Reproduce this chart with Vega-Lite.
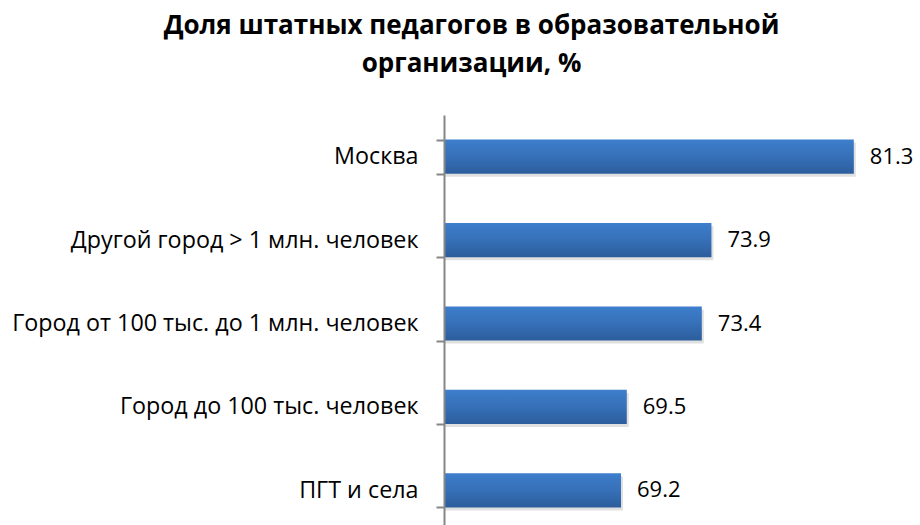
{
  "$schema": "https://vega.github.io/schema/vega-lite/v6.json",
  "autosize": "none",
  "width": 481,
  "height": 417,
  "padding": {"left": 444, "top": 115, "right": 0, "bottom": 0},
  "background": "white",
  "title": {
    "text": ["Доля штатных педагогов в образовательной", "организации, %"],
    "anchor": "middle",
    "dx": -213,
    "offset": 26,
    "font": "Open Sans",
    "fontSize": 26,
    "fontWeight": "bold",
    "color": "#000000",
    "lineHeight": 38
  },
  "config": {"view": {"stroke": null}},
  "data": {
    "values": [
      {"category": "Москва", "value": 81.3},
      {"category": "Другой город > 1 млн. человек", "value": 73.9},
      {"category": "Город от 100 тыс. до 1 млн. человек", "value": 73.4},
      {"category": "Город до 100 тыс. человек", "value": 69.5},
      {"category": "ПГТ и села", "value": 69.2}
    ]
  },
  "encoding": {
    "y": {
      "field": "category",
      "type": "nominal",
      "sort": null,
      "scale": {"paddingInner": 0.59, "paddingOuter": 0.295},
      "axis": {
        "title": null,
        "domainColor": "#868686",
        "domainWidth": 2,
        "tickColor": "#868686",
        "tickWidth": 2,
        "tickSize": 8,
        "tickBand": "extent",
        "labelFont": "Open Sans",
        "labelFontSize": 23.3,
        "labelColor": "#000000",
        "labelPadding": 18,
        "labelLimit": 0,
        "zindex": 1
      }
    },
    "x": {
      "field": "value",
      "type": "quantitative",
      "scale": {"domain": [60, 85], "zero": false, "nice": false},
      "axis": null
    },
    "x2": {"datum": 60}
  },
  "layer": [
    {
      "mark": {"type": "bar", "color": "#000000", "opacity": 0.12, "yOffset": 3, "xOffset": 2, "cornerRadius": 1}
    },
    {
      "mark": {
        "type": "bar",
        "color": {
          "gradient": "linear",
          "x1": 0, "y1": 0, "x2": 0, "y2": 1,
          "stops": [
            {"offset": 0, "color": "#3E7ECC"},
            {"offset": 0.5, "color": "#3670B8"},
            {"offset": 1, "color": "#2C5D9C"}
          ]
        }
      }
    },
    {
      "mark": {"type": "text", "align": "left", "baseline": "middle", "dx": 16, "font": "Open Sans", "fontSize": 22, "color": "#000000"},
      "encoding": {"text": {"field": "value", "type": "quantitative", "format": ".1f"}, "x2": null}
    }
  ]
}
